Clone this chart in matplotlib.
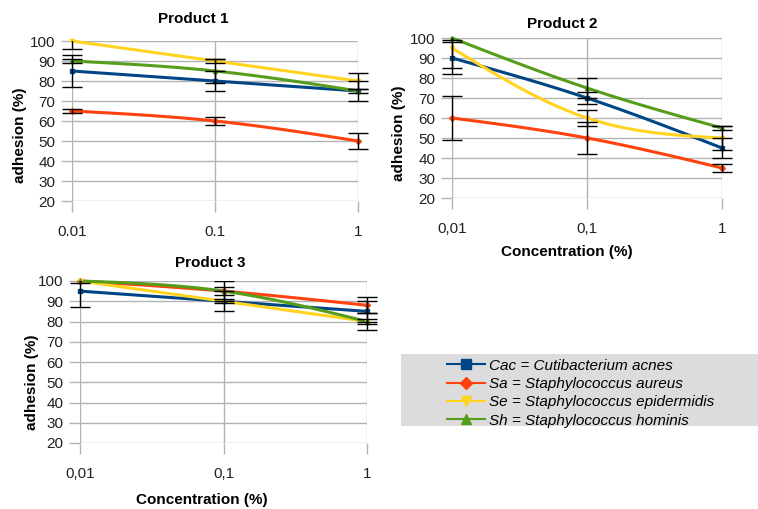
import numpy as np
import matplotlib
matplotlib.use('Agg')
import matplotlib.pyplot as plt
from matplotlib.lines import Line2D
from matplotlib.patches import Rectangle

plt.rcParams['font.family'] = ['Liberation Sans', 'DejaVu Sans']

# concentrations (%)
conc = [0.01, 0.1, 1]
tick_dot = ['0.01', '0.1', '1']
tick_comma = ['0,01', '0,1', '1']

species = ['Cac = Cutibacterium acnes', 'Sa = Staphylococcus aureus',
           'Se = Staphylococcus epidermidis', 'Sh = Staphylococcus hominis']
colors = ['#004586', '#ff420e', '#ffd320', '#579d1c']
markers = ['s', 'D', 'v', '^']

# adhesion (%) per product, order: Cac, Sa, Se, Sh
p1_vals = [[85, 80, 75], [65, 60, 50], [100, 90, 80], [90, 85, 75]]
p1_err = [[8, 5, 5], [1, 2, 4], [4, 1, 4], [1, 6, 1]]
p2_vals = [[90, 70, 45], [60, 50, 35], [95, 60, 50], [100, 75, 55]]
p2_err = [[8, 3, 5], [11, 8, 2], [10, 4, 6], [1, 5, 1]]
p3_vals = [[95, 90, 85], [100, 95, 88], [100, 90, 80], [100, 95, 80]]
p3_err = [[8, 5, 5], [0, 2, 4], [0, 1, 1], [1, 5, 4]]

W, H = 758, 509
FS = 11


def smooth(xs, ys, n=40):
    # natural cubic spline through the points (log-x), just for the line style
    t = np.log10(xs)
    y = np.asarray(ys, dtype=float)
    h = t[1] - t[0]
    m1 = 1.5 * (y[0] - 2 * y[1] + y[2]) / h ** 2
    M = [0.0, m1, 0.0]
    tt_all, yy_all = [], []
    for i in range(2):
        tt = np.linspace(t[i], t[i + 1], n)
        a = (t[i + 1] - tt) / h
        b = (tt - t[i]) / h
        yy = (a * y[i] + b * y[i + 1]
              + ((a ** 3 - a) * M[i] + (b ** 3 - b) * M[i + 1]) * h ** 2 / 6)
        tt_all.append(tt)
        yy_all.append(yy)
    return 10 ** np.concatenate(tt_all), np.concatenate(yy_all)


def fx(x):
    return x / W


def fy(y):
    return 1 - y / H


def panel(px, vals, errs, ticklabels, title_xy, ylab_xy, xlab_xy=None):
    l, r, t, b = px
    ax = fig.add_axes([fx(l), fy(b), (r - l) / W, (b - t) / H])
    ax.set_xscale('log')
    ax.set_xlim(0.01, 1)
    ax.set_ylim(20, 100)
    ax.set_yticks(range(20, 101, 10))
    ax.set_xticks(conc)
    ax.set_xticklabels(ticklabels)
    ax.minorticks_off()
    ax.grid(True, color='#b3b3b3', linewidth=1)
    for s in ax.spines.values():
        s.set_visible(False)
    ax.tick_params(length=8, color='#b3b3b3', width=1, labelsize=FS,
                   labelcolor='#222222', pad=4)
    ax.tick_params(axis='x', pad=9)
    # error bars are cut at the top of the plot but not at its sides
    clip = Rectangle((-0.1, -0.2), 1.2, 1.2, transform=ax.transAxes)
    for v, e, c, m in zip(vals, errs, colors, markers):
        sx, sy = smooth(conc, v)
        ax.plot(sx, sy, color=c, lw=2.2, solid_capstyle='round', clip_on=False, zorder=3)
        ax.plot(conc, v, ls='none', marker=m, color=c, ms=3, clip_on=False, zorder=4)
        keep = [i for i in range(len(e)) if e[i] > 0]
        eb = ax.errorbar([conc[i] for i in keep], [v[i] for i in keep],
                         yerr=[e[i] for i in keep], fmt='none', ecolor='black',
                         elinewidth=1, capsize=7, capthick=1, zorder=5)
        for art in list(eb.lines[1]) + list(eb.lines[2]):
            art.set_clip_path(clip)
    ax.set_axisbelow(True)
    fig.text(fx(title_xy[0]), fy(title_xy[1]), title_xy[2], ha='center', va='center',
             fontsize=FS, fontweight='bold')
    fig.text(fx(ylab_xy[0]), fy(ylab_xy[1]), 'adhesion (%)', ha='center', va='center',
             rotation=90, fontsize=FS, fontweight='bold')
    if xlab_xy:
        fig.text(fx(xlab_xy[0]), fy(xlab_xy[1]), 'Concentration (%)', ha='center',
                 va='center', fontsize=FS, fontweight='bold')
    return ax


fig = plt.figure(figsize=(W / 100, H / 100), dpi=100)

panel((72, 358, 41, 201), p1_vals, p1_err, tick_dot,
      (193, 19, 'Product 1'), (20, 135))
panel((452, 722, 38, 198), p2_vals, p2_err, tick_comma,
      (562, 24, 'Product 2'), (399, 133), (567, 252))
panel((80, 367, 281, 443), p3_vals, p3_err, tick_comma,
      (210, 263, 'Product 3'), (32, 382), (202, 500))

# legend box
fig.patches.append(Rectangle((fx(401), fy(426)), (758 - 401) / W, 72 / H,
                             transform=fig.transFigure, facecolor='#dcdcdc',
                             edgecolor='none', zorder=0))
handles = [Line2D([], [], color=c, marker=m, ms=6.5, lw=1.5) for c, m in zip(colors, markers)]
fig.legend(handles, species, loc='upper left', bbox_to_anchor=(fx(436), fy(348)),
           frameon=False, prop={'style': 'italic', 'size': FS},
           handlelength=2.5, handletextpad=0.3, labelspacing=0.28, borderpad=0.2)

fig.savefig('out.png', dpi=100)
